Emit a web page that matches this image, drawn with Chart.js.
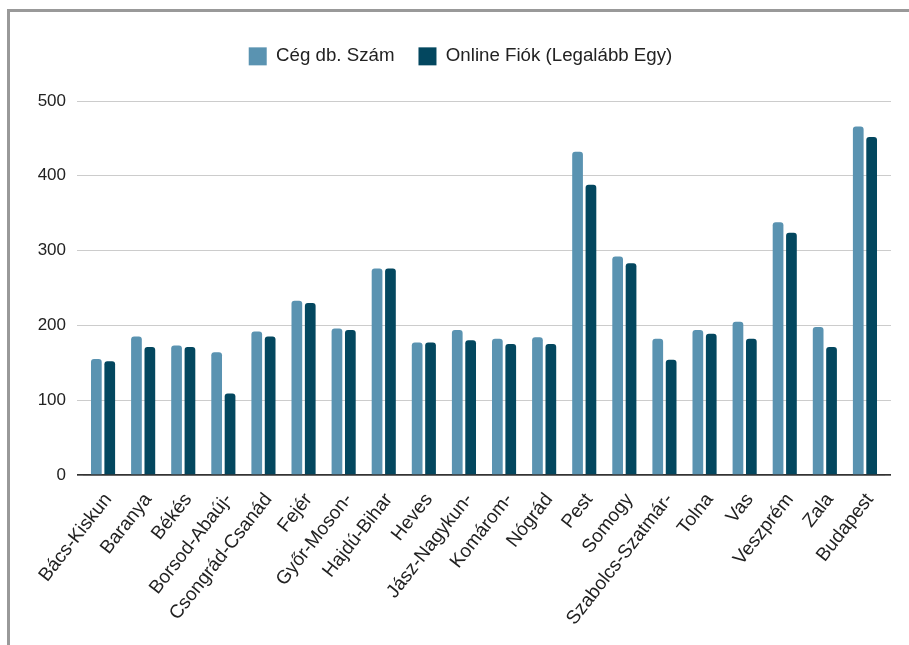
<!DOCTYPE html>
<html>
<head>
<meta charset="utf-8">
<script src="https://cdn.jsdelivr.net/npm/chart.js@4/dist/chart.umd.min.js"></script>
<style>
  html, body { margin: 0; padding: 0; background: #fff; }
  #wrap { position: relative; width: 909px; height: 645px; overflow: hidden; }
  #frame { position: absolute; left: 7px; top: 9px; right: -10px; bottom: -10px;
           border-left: 3px solid #999; border-top: 3px solid #999; }
  #c { position: absolute; left: 0; top: 0; }
</style>
</head>
<body>
<div id="wrap">
  <div id="frame"></div>
  <canvas id="c" width="909" height="645"></canvas>
</div>
<script>
// Counties (megyék) plus Budapest
const counties = ['Bács-Kiskun', 'Baranya', 'Békés', 'Borsod-Abaúj-', 'Csongrád-Csanád', 'Fejér',
  'Győr-Moson-', 'Hajdú-Bihar', 'Heves', 'Jász-Nagykun-', 'Komárom-', 'Nógrád', 'Pest', 'Somogy',
  'Szabolcs-Szatmár-', 'Tolna', 'Vas', 'Veszprém', 'Zala', 'Budapest'];

// Number of companies
const companyCount = [155, 185, 173, 164, 192, 233, 196, 276, 177, 194, 182, 184, 432, 292, 182, 194, 205, 338, 198, 466];

// Companies with at least one online account
const onlineAccount = [152, 171, 171, 109, 185, 230, 194, 276, 177, 180, 175, 175, 388, 283, 154, 189, 182, 324, 171, 452];

const seriesNames = ['Cég db. Szám', 'Online Fiók (Legalább Egy)'];
const yTicks = [0, 100, 200, 300, 400, 500];

const FONT = '"Liberation Sans", Arial, sans-serif';
const GRID = '#cccccc';
const BASE = '#333333';

// Reserve vertical room under the legend so the plot starts lower
const legendSpacer = {
  id: 'legendSpacer',
  beforeInit(chart) {
    const fit = chart.legend.fit;
    chart.legend.fit = function () {
      fit.call(this);
      this.height = 78;
    };
  }
};

const gridColor = ctx => (ctx.tick && ctx.tick.value === 0 ? BASE : GRID);
const gridWidth = ctx => (ctx.tick && ctx.tick.value === 0 ? 1.7 : 1);

new Chart(document.getElementById('c'), {
  type: 'bar',
  data: {
    labels: counties,
    datasets: [
      { label: seriesNames[0], data: companyCount, backgroundColor: '#5a93b1',
        borderRadius: 3, borderSkipped: 'start', yAxisID: 'y' },
      { label: seriesNames[1], data: onlineAccount, backgroundColor: '#03475f',
        borderRadius: 3, borderSkipped: 'start', yAxisID: 'y' }
    ]
  },
  options: {
    responsive: false,
    animation: false,
    layout: { padding: { left: 12, top: 23, right: 0, bottom: 0 } },
    datasets: { bar: { barPercentage: 0.8, categoryPercentage: 0.668 } },
    plugins: {
      tooltip: { enabled: false },
      legend: {
        position: 'top',
        labels: {
          font: { family: FONT, size: 18.7 },
          color: '#222',
          boxWidth: 18,
          boxHeight: 18,
          padding: 24
        }
      }
    },
    scales: {
      x: {
        grid: { display: false, drawTicks: false },
        border: { display: false },
        ticks: {
          autoSkip: false,
          minRotation: 52,
          maxRotation: 52,
          labelOffset: 5,
          padding: 14,
          color: '#222',
          font: { family: FONT, size: 19 }
        },
        afterFit(scale) { scale.height = 170; }
      },
      y: {
        position: 'left',
        min: yTicks[0],
        max: yTicks[yTicks.length - 1],
        afterBuildTicks(scale) { scale.ticks = yTicks.map(v => ({ value: v })); },
        grid: { color: gridColor, lineWidth: gridWidth, tickLength: 6, drawTicks: true },
        border: { display: false },
        ticks: { padding: 11, color: '#222', font: { family: FONT, size: 17 } },
        afterFit(scale) { scale.width = 71; }
      },
      yRight: {
        position: 'right',
        min: yTicks[0],
        max: yTicks[yTicks.length - 1],
        afterBuildTicks(scale) { scale.ticks = yTicks.map(v => ({ value: v })); },
        grid: { color: gridColor, lineWidth: gridWidth, tickLength: 6, drawTicks: true, drawOnChartArea: false },
        border: { display: false },
        ticks: { display: false },
        afterFit(scale) { scale.width = 24; }
      }
    }
  },
  plugins: [legendSpacer]
});
</script>
</body>
</html>
